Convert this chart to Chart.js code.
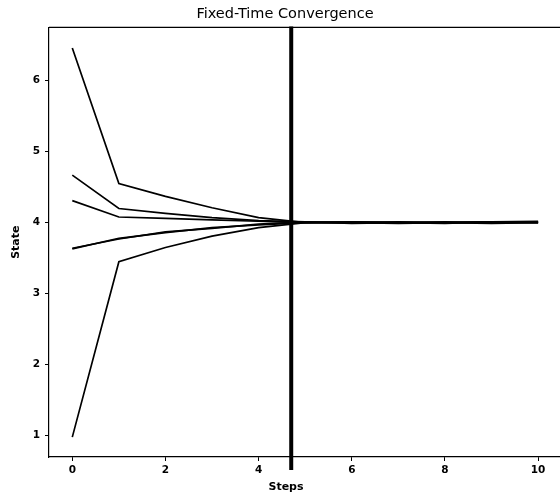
<!DOCTYPE html>
<html>
<head>
<meta charset="utf-8">
<script src="https://cdn.jsdelivr.net/npm/chart.js@4.4.1/dist/chart.umd.min.js"></script>
<style>
  html, body { margin: 0; padding: 0; background: #fff; }
  #wrap { width: 560px; height: 494px; }
</style>
</head>
<body>
<div id="wrap"><canvas id="chart"></canvas></div>
<script>
// steps on the x axis
const steps = [0, 1, 2, 3, 4, 5, 6, 7, 8, 9, 10];

// agent states
const stateA = [6.46, 4.55, 4.37, 4.21, 4.07, 4.00, 4.00, 4.01, 4.00, 4.01, 4.01];
const stateB = [4.67, 4.20, 4.13, 4.07, 4.03, 4.01, 3.99, 4.00, 4.01, 4.00, 4.00];
const stateC = [4.31, 4.08, 4.06, 4.04, 4.02, 4.00, 4.01, 4.00, 4.00, 4.01, 4.02];
const stateD = [3.63, 3.78, 3.86, 3.93, 3.97, 4.00, 4.00, 3.99, 4.00, 4.00, 4.01];
const stateE = [3.64, 3.77, 3.87, 3.92, 3.98, 4.01, 4.00, 4.00, 3.99, 4.01, 4.00];
const stateF = [0.98, 3.45, 3.65, 3.81, 3.93, 4.00, 4.01, 4.00, 4.00, 3.99, 4.00];

// settling time marker
const settleStep = 4.7;

const xTicks = [0, 2, 4, 6, 8, 10];
const yTicks = [1, 2, 3, 4, 5, 6];

const series = [stateA, stateB, stateC, stateD, stateE, stateF];

const font = 'DejaVu Sans';

// vertical marker line (runs a bit past the axes like the original), top frame, x label
const markerLine = {
    id: 'markerLine',
    afterDatasetsDraw(chart) {
        const ctx = chart.ctx;
        const x = chart.scales.x.getPixelForValue(settleStep);
        const area = chart.chartArea;
        ctx.save();
        ctx.strokeStyle = '#000';
        ctx.lineWidth = 4;
        ctx.beginPath();
        ctx.moveTo(x, area.top - 1);
        ctx.lineTo(x, area.bottom + 13);
        ctx.stroke();
        ctx.lineWidth = 1.2;
        ctx.beginPath();
        ctx.moveTo(area.left, area.top);
        ctx.lineTo(chart.width, area.top);
        ctx.stroke();
        ctx.fillStyle = '#000';
        ctx.font = 'bold 11px "' + font + '"';
        ctx.textAlign = 'center';
        ctx.textBaseline = 'middle';
        ctx.fillText('Steps', 286, area.bottom + 30);
        ctx.restore();
    }
};

new Chart(document.getElementById('chart'), {
    type: 'line',
    data: {
        datasets: series.map(vals => ({
            data: vals.map((v, i) => ({ x: steps[i], y: v })),
            borderColor: '#000',
            borderWidth: 1.7,
            pointRadius: 0,
            tension: 0,
            fill: false
        }))
    },
    options: {
        responsive: true,
        maintainAspectRatio: false,
        animation: false,
        layout: { padding: { left: 10, right: 0, top: 0, bottom: 0 } },
        plugins: {
            legend: { display: false },
            tooltip: { enabled: false },
            title: {
                display: true,
                text: 'Fixed-Time Convergence',
                color: '#000',
                font: { family: font, size: 14.5, weight: 'normal' },
                padding: { top: 6, bottom: 4 }
            }
        },
        scales: {
            x: {
                type: 'linear',
                min: -0.5,
                max: 10.47,
                afterBuildTicks: s => { s.ticks = xTicks.map(v => ({ value: v })); },
                afterFit: s => { s.height = 37; },
                grid: { display: true, drawOnChartArea: false, drawTicks: true, tickLength: 4, color: '#000', tickWidth: 1 },
                border: { display: true, color: '#000', width: 1.2 },
                ticks: { color: '#000', padding: 3, maxRotation: 0, font: { family: font, size: 10.5, weight: 'bold' } },
                title: { display: false }
            },
            y: {
                type: 'linear',
                min: 0.70,
                max: 6.75,
                afterBuildTicks: s => { s.ticks = yTicks.map(v => ({ value: v })); },
                afterFit: s => { s.width = 39; },
                grid: { display: true, drawOnChartArea: false, drawTicks: true, tickLength: 4, color: '#000', tickWidth: 1 },
                border: { display: true, color: '#000', width: 1.2 },
                ticks: { color: '#000', padding: 5, font: { family: font, size: 10.5, weight: 'bold' } },
                title: { display: true, text: 'State', color: '#000', padding: { top: 0, bottom: 4 }, font: { family: font, size: 11, weight: 'bold' } }
            }
        }
    },
    plugins: [markerLine]
});
</script>
</body>
</html>
